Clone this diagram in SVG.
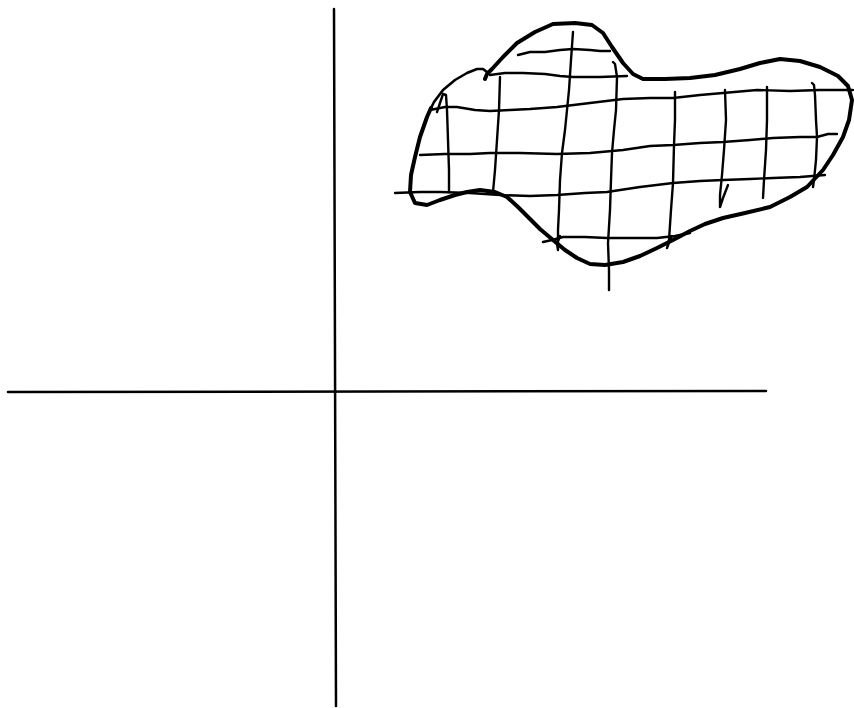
<svg xmlns="http://www.w3.org/2000/svg" width="854" height="708" viewBox="0 0 854 708">
<style>
.ax{fill:none;stroke:#000;stroke-width:2.5;stroke-linecap:round;stroke-linejoin:round}
.thick{fill:none;stroke:#000;stroke-width:4;stroke-linecap:round;stroke-linejoin:round}
.thin{fill:none;stroke:#000;stroke-width:2.6;stroke-linecap:round;stroke-linejoin:round}
.g{fill:none;stroke:#000;stroke-width:2.4;stroke-linecap:round;stroke-linejoin:round}
</style>
<rect width="854" height="708" fill="#fff"/>
<g id="axes">
<line class="ax" x1="334" y1="9" x2="336" y2="706"/>
<line class="ax" x1="8" y1="392" x2="766" y2="391"/>
</g>
<g id="blob">
<polyline class="thick" points="485,79 487,74 492,69 503,57 517,43 535,32 553,24 575,23 592,25 603,33 612,47 623,63 633,74 643,79 665,79 690,78 715,75 740,69 760,63 780,59 800,61 820,67 838,76 848,86 852,100 849,120 843,137 833,155 823,170 807,187 790,197 770,207 745,213 723,218 705,224 690,231 673,240 657,248 640,256 623,262 605,265 590,264 577,258 565,250 553,240 540,229 530,219 518,207 507,197 495,192 480,190 467,192 455,195 440,200 427,205 415,203 410,192 411,175 415,157 420,137 427,117 431,108"/>
<polyline class="thin" points="431,108 434,102 443,90 455,80 467,73 477,69 483,69 487,72"/>
</g>
<g id="grid">
<polyline class="g" points="518,55 530,52 545,52 560,50 573,49 590,50 600,51 610,51"/>
<polyline class="g" points="490,75 505,73 523,73 545,74 560,76 573,77 600,77 627,76"/>
<polyline class="g" points="430,110 445,107 457,107 475,110 490,111 510,110 530,109 557,107 590,103 623,99 650,98 673,98 700,95 723,93 757,90 790,91 820,90 853,90"/>
<polyline class="g" points="420,155 445,154 470,154 490,153 520,153 557,154 590,153 623,150 650,146 673,145 700,143 723,142 750,140 773,138 800,137 817,137 828,134 837,134"/>
<polyline class="g" points="395,193 420,192 440,192 470,193 500,195 530,196 557,195 585,193 607,192 640,187 673,183 700,181 723,180 750,179 773,178 800,177 825,175"/>
<polyline class="g" points="543,242 552,240 563,237 585,237 607,238 630,238 657,238 675,236 690,233"/>
<polyline class="g" points="437,112 441,100 443,94 446,95 447,110 448,140 449,170 449,192"/>
<polyline class="g" points="500,77 499,110 497,140 495,170 493,192"/>
<polyline class="g" points="573,32 571,60 569,90 567,110 565,130 562,153 560,180 559,210 558,230 558,250 557,244 560,236"/>
<polyline class="g" points="613,62 615,64 617,77 616,110 614,130 612,153 611,180 610,210 608,243 609,270 609,290"/>
<polyline class="g" points="675,92 675,120 674,145 673,183 671,210 669,240 667,248 670,240 672,236"/>
<polyline class="g" points="725,90 726,120 724,150 722,175 720,195 720,207 723,198 728,185"/>
<polyline class="g" points="767,87 767,120 766,150 764,180 763,198"/>
<polyline class="g" points="812,83 814,85 815,95 816,120 817,137 816,160 814,180 813,187"/>
</g>
</svg>
